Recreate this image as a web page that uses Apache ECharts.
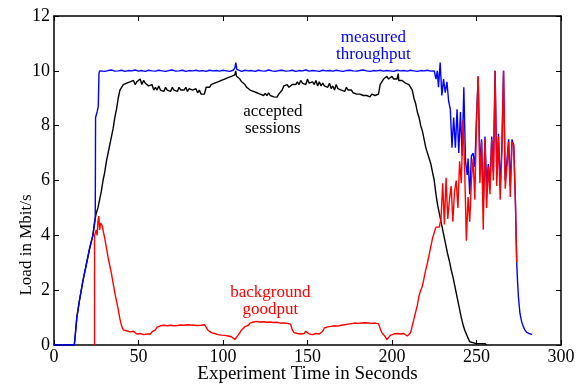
<!DOCTYPE html>
<html>
<head>
<meta charset="utf-8">
<script src="https://cdn.jsdelivr.net/npm/echarts@6/dist/echarts.min.js"></script>
<style>html,body{margin:0;padding:0;background:#fff}#c{width:584px;height:385px}</style>
</head>
<body>
<div id="c"></div>
<script>
// Axis ticks
const xTicks = {min: 0, max: 300, interval: 50};
const yTicks = {min: 0, max: 12, interval: 2};

// measured throughput [time s, Mbit/s]
const measuredThroughput = [
[0,0],[12,0],[12.5,0.3],[13.5,1.0],[15,1.6],[17,2.3],[19,2.9],[21,3.5],[23,4.0],[24,4.4],[24.4,4.6],[24.6,8.3],[25.5,8.5],[26.2,8.7],[26.6,9.9],[27,10.0],
[28,10.02],[30,9.98],[32,10.01],[34,10.03],[36,9.99],[38,10.0],[40,10.02],[42,9.98],[44,10.01],[46,10.0],[48,10.03],[50,9.99],[52,10.01],[54,9.98],[56,10.02],[58,10.0],[60,9.99],[62,10.02],[64,10.0],[66,9.98],[68,10.01],[70,10.03],[72,9.99],[74,10.0],[76,10.02],[78,9.98],[80,10.01],[82,10.0],[84,10.02],[86,9.99],[88,10.01],[90,9.98],[92,10.02],[94,10.0],[96,10.01],[98,9.99],[100,10.02],[102,10.0],[104,9.98],[106,10.02],[107,10.1],[107.6,10.3],[108.2,10.05],[109,10.0],
[111,9.98],[113,10.02],[115,10.0],[117,10.01],[119,9.98],[121,10.02],[123,10.0],[125,9.99],[127,10.03],[129,10.0],[131,9.98],[133,10.01],[135,10.02],[137,9.99],[139,10.0],[141,10.02],[143,9.98],[145,10.01],[147,10.0],[149,10.03],[151,9.99],[153,10.01],[155,10.0],[157,9.98],[159,10.02],[161,10.0],[163,10.01],[165,9.99],[167,10.02],[169,10.0],[171,9.98],[173,10.01],[175,10.02],[177,10.0],[179,9.99],[181,10.01],[183,10.03],[185,10.0],[187,9.98],[189,10.01],[191,10.0],[193,10.02],[195,9.99],[197,10.01],[199,10.0],[201,9.98],[203,10.02],[205,10.0],[207,10.01],[209,9.99],[211,10.02],[213,10.0],[215,9.98],[217,10.01],[219,10.0],[221,10.02],[223,9.99],[225,10.0],
[226,9.7],[226.8,10.0],[227.5,9.4],[228.5,10.3],[229.5,9.1],[230.5,9.7],[231.5,9.2],[232.5,9.6],[233.5,8.9],[234.5,8.6],[235.5,7.2],[236.5,8.3],[237.5,7.2],[238.5,8.6],[239.5,7.0],[240.5,8.5],[241.5,6.9],[242.5,9.4],[243.5,6.7],[244.5,6.2],
[245,6.8],[246,5.5],[247,6.9],[248,7.0],[249,6.5],[250,8.3],[251,9.8],[252,6.5],[253,7.5],[254,5.0],[255,7.6],[256,5.8],[257,6.6],[258,5.9],[259,7.6],[260,6.3],[261,10.0],[262,6.2],[263,7.7],[264,5.8],[265,7.2],[266,10.0],[267,6.0],[268,6.7],[269,7.5],[270,5.8],[271,7.5],[272,7.3],[273,5.3],
[273.8,3.0],[274.3,2.3],[274.8,1.76],[275.7,1.16],[276.7,0.85],[277.7,0.67],[278.7,0.54],[279.7,0.46],[281,0.42],[283,0.39]
];

// accepted sessions [time s, Mbit/s]
const acceptedSessions = [
[0,0],[12,0],[12.5,0.3],[13.5,1.0],[15,1.6],[17,2.3],[19,2.9],[21,3.5],[23,4.0],[24,4.5],[25,4.8],[26,5.0],[27,5.3],[28,5.6],[29,6.0],[30,6.3],[31,6.7],[32,7.0],[33,7.3],[34,7.6],[35,7.9],[36,8.3],[37,8.6],[38,9.0],[39,9.3],[40,9.4],
[41,9.5],[42,9.45],[43,9.55],[44,9.5],[45,9.6],[46,9.55],[47,9.65],[48,9.5],[49,9.6],[50,9.55],[51,9.7],[52,9.5],[53,9.65],[54,9.55],[55,9.6],[56,9.45],[57,9.4],[58,9.5],[59,9.3],[60,9.4],
[61,9.3],[62,9.45],[63,9.3],[64,9.35],[65,9.25],[66,9.4],[67,9.3],[68,9.35],[69,9.25],[70,9.4],[71,9.3],[72,9.35],[73,9.25],[74,9.4],[75,9.3],[76,9.35],[77,9.3],[78,9.4],[79,9.25],[80,9.35],
[81,9.3],[82,9.3],[83,9.25],[84,9.35],[85,9.2],[86,9.3],[87,9.15],[88,9.2],[89,9.15],[90,9.4],[91,9.45],[92,9.4],[93,9.5],[94,9.45],[95,9.55],[96,9.5],[97,9.6],[98,9.55],[99,9.65],[100,9.6],
[101,9.7],[102,9.65],[103,9.75],[104,9.7],[105,9.8],[106,9.75],[107,9.85],[107.5,10.0],[108,9.8],[109,9.75],[110,9.7],[111,9.6],[112,9.55],[113,9.5],[114,9.4],[115,9.35],[116,9.3],[117,9.35],[118,9.25],[119,9.3],[120,9.2],
[121,9.25],[122,9.15],[123,9.2],[124,9.1],[125,9.18],[126,9.1],[127,9.2],[128,9.1],[129,9.15],[130,9.05],[131,9.1],[132,9.04],[133,9.15],[134,9.2],[135,9.3],[136,9.45],[137,9.4],[138,9.5],[139,9.4],[140,9.45],
[141,9.5],[142,9.55],[143,9.5],[144,9.6],[145,9.5],[146,9.65],[147,9.55],[148,9.6],[149,9.5],[150,9.7],[151,9.55],[152,9.5],[153,9.6],[154,9.5],[155,9.65],[156,9.45],[157,9.6],[158,9.45],[159,9.55],[160,9.45],
[161,9.5],[162,9.4],[163,9.55],[164,9.35],[165,9.45],[166,9.3],[167,9.5],[168,9.35],[169,9.4],[170,9.3],[171,9.35],[172,9.25],[173,9.4],[174,9.3],[175,9.25],[176,9.3],[177,9.2],[178,9.25],[179,9.15],[180,9.2],
[181,9.15],[182,9.2],[183,9.1],[184,9.15],[185,9.1],[186,9.15],[187,9.05],[188,9.15],[189,9.1],[190,9.1],[191,9.1],[192,9.15],[193,9.5],[194,9.6],[195,9.7],[196,9.75],[197,9.8],[198,9.7],[199,9.75],[200,9.8],
[201,9.7],[202,9.75],[203,9.7],[203.7,9.9],[204,9.65],[205,9.6],[206,9.65],[207,9.6],[208,9.55],[209,9.6],[210,9.5],[211,9.45],[212,9.3],[213,9.0],[214,8.8],[215,8.5],[216,8.3],[217,8.0],[218,7.8],[219,7.5],[220,7.2],
[221,7.0],[222,6.8],[223,6.6],[224,6.3],[225,6.0],[226,5.5],[227,5.1],[228,4.8],[229,4.5],[230,4.2],[231,3.9],[232,3.6],[233,3.3],[234,3.05],[235,2.75],[236,2.5],[237,2.2],[238,1.9],[239,1.6],[240,1.3],
[241,1.0],[242,0.75],[243,0.55],[244,0.4],[245,0.25],[246,0.12],[247,0.06],[250,0.05],[255,0.05],[256,0]
];

// background goodput [time s, Mbit/s]
const backgroundGoodput = [
[24,0],[24,4.0],[24.5,4.05],[25,4.2],[25.5,4.0],[26,4.5],[26.5,4.7],[27,4.2],[27.5,4.45],[28.5,4.35],[29,4.2],[30,3.9],[31,3.55],[32,3.2],[33,2.9],[34,2.6],[35,2.25],[36,1.9],[37,1.6],[38,1.3],[39,0.95],[40,0.7],
[41,0.55],[42,0.5],[43,0.52],[44,0.45],[45,0.48],[46,0.42],[47,0.5],[48,0.45],[49,0.4],[50,0.47],[51,0.42],[52,0.45],[53,0.38],[54,0.44],[55,0.4],[56,0.46],[57,0.4],[58,0.48],[59,0.42],[60,0.55],
[61,0.65],[62,0.62],[63,0.7],[64,0.65],[65,0.72],[66,0.66],[67,0.7],[68,0.64],[69,0.72],[70,0.67],[71,0.7],[72,0.65],[73,0.71],[74,0.68],[75,0.73],[76,0.69],[77,0.72],[78,0.7],[79,0.74],[80,0.69],
[81,0.73],[82,0.7],[83,0.72],[84,0.75],[85,0.71],[86,0.76],[87,0.72],[88,0.77],[89,0.74],[90,0.75],[91,0.55],[92,0.5],[93,0.45],[94,0.48],[95,0.42],[96,0.45],[97,0.38],[98,0.42],[99,0.36],[100,0.4],
[101,0.35],[102,0.38],[103,0.33],[104,0.36],[105,0.3],[106,0.25],[107,0.2],[108,0.28],[109,0.35],[110,0.45],[111,0.55],[112,0.6],[113,0.67],[114,0.7],[115,0.72],[116,0.8],[117,0.78],[118,0.84],[119,0.8],[120,0.86],
[121,0.8],[122,0.84],[123,0.78],[124,0.85],[125,0.8],[126,0.83],[127,0.79],[128,0.84],[129,0.8],[130,0.82],[131,0.78],[132,0.83],[133,0.77],[134,0.8],[135,0.76],[136,0.8],[137,0.77],[138,0.79],[139,0.75],[140,0.76],
[141,0.55],[142,0.45],[143,0.5],[144,0.42],[145,0.48],[146,0.4],[147,0.46],[148,0.42],[149,0.5],[150,0.44],[151,0.4],[152,0.47],[153,0.38],[154,0.45],[155,0.42],[156,0.48],[157,0.4],[158,0.46],[159,0.5],[160,0.62],
[161,0.58],[162,0.66],[163,0.6],[164,0.68],[165,0.62],[166,0.7],[167,0.65],[168,0.69],[169,0.66],[170,0.72],[171,0.76],[172,0.74],[173,0.8],[174,0.76],[175,0.82],[176,0.78],[177,0.84],[178,0.8],[179,0.85],[180,0.79],
[181,0.83],[182,0.8],[183,0.86],[184,0.81],[185,0.84],[186,0.8],[187,0.85],[188,0.79],[189,0.83],[190,0.8],[191,0.82],[192,0.78],[193,0.6],[194,0.45],[195,0.4],[196,0.3],[197,0.2],[198,0.25],[199,0.35],[200,0.32],
[201,0.4],[202,0.35],[203,0.42],[204,0.38],[205,0.4],[206,0.36],[207,0.42],[208,0.37],[209,0.33],[210,0.38],[211,0.45],[212,0.7],[213,0.95],[214,1.2],[215,1.45],[216,1.8],[217,2.0],[218,2.15],[219,2.45],[220,2.75],
[221,3.0],[222,3.3],[223,3.6],[224,3.9],[225,4.1],[226,4.3],[227,4.35],[228,4.3],[229,4.6],[230,5.9],[231,4.4],[232,6.1],[233,4.6],[234,5.3],[235,5.8],[236,4.5],[237,5.6],[238,6.0],[239,5.0],[240,6.7],
[241,5.9],[242,8.2],[243,6.4],[244,3.8],[245,5.4],[246,4.5],[247,6.0],[248,6.8],[249,5.3],[250,8.1],[251,9.8],[252,5.9],[253,7.4],[254,4.2],[255,7.5],[256,5.0],[257,6.5],[258,5.5],[259,7.5],[260,6.0],
[261,10.0],[262,5.8],[263,7.6],[264,5.3],[265,7.0],[266,10.0],[267,5.7],[268,6.5],[269,7.4],[270,5.4],[271,7.4],[272,7.3],[273,5.3],[273.8,3.0]
];

// in-plot labels
const labelTexts = ['measured\nthroughput', 'accepted\nsessions', 'background\ngoodput'];
const labelAt = [[189, 10.9], [129.5, 8.2], [128, 1.62]];
const labelColors = ['#0000ff', '#000000', '#ff0000'];
const xTitle = 'Experiment Time in Seconds';
const yTitle = 'Load in Mbit/s';

const FONT = 'Liberation Serif';
const chart = echarts.init(document.getElementById('c'), null, {renderer: 'canvas'});

function xAx(pos, labels) {
  return {
    type: 'value', position: pos, min: xTicks.min, max: xTicks.max, interval: xTicks.interval,
    axisLine: {show: true, onZero: false, lineStyle: {color: '#000', width: 1.5}},
    axisTick: {show: true, inside: true, length: 5, lineStyle: {color: '#000', width: 1}},
    minorTick: {show: false},
    axisLabel: {show: labels, color: '#000', fontFamily: FONT, fontSize: 18, margin: 3},
    splitLine: {show: false}
  };
}
function yAx(pos, labels) {
  return {
    type: 'value', position: pos, min: yTicks.min, max: yTicks.max, interval: yTicks.interval,
    axisLine: {show: true, onZero: false, lineStyle: {color: '#000', width: 1.5}},
    axisTick: {show: true, inside: true, length: 5, lineStyle: {color: '#000', width: 1}},
    minorTick: {show: false},
    axisLabel: {show: labels, color: '#000', fontFamily: FONT, fontSize: 18, margin: 4},
    splitLine: {show: false}
  };
}

function line(data, color) {
  return {type: 'line', data: data, xAxisIndex: 0, yAxisIndex: 0, symbol: 'none', showSymbol: false,
    lineStyle: {color: color, width: 1.4}, itemStyle: {color: color}, sampling: null, smooth: false, z: 2};
}

chart.setOption({
  animation: false,
  backgroundColor: '#fff',
  grid: {left: 54, right: 23, top: 16, bottom: 40, containLabel: false, outerBoundsMode: 'none'},
  xAxis: [xAx('bottom', true), xAx('top', false)],
  yAxis: [yAx('left', true), yAx('right', false)],
  series: [
    line(acceptedSessions, '#000000'),
    line(measuredThroughput, '#0000ff'),
    line(backgroundGoodput, '#ff0000')
  ]
});

const graphics = labelTexts.map(function (t, i) {
  const p = chart.convertToPixel({xAxisIndex: 0, yAxisIndex: 0}, labelAt[i]);
  return {type: 'text', x: p[0], y: p[1], z: 10,
    style: {text: t, fill: labelColors[i], font: '17px "' + FONT + '"', align: 'center', verticalAlign: 'middle', lineHeight: 17}};
});
graphics.push({type: 'text', x: 27, y: 245, rotation: Math.PI / 2, z: 10,
  style: {text: yTitle, fill: '#000', font: '17px "' + FONT + '"', align: 'center', verticalAlign: 'middle'}});
graphics.push({type: 'text', x: 307.5, y: 374, z: 10,
  style: {text: xTitle, fill: '#000', font: '19px "' + FONT + '"', align: 'center', verticalAlign: 'middle'}});
chart.setOption({graphic: graphics});
</script>
</body>
</html>
